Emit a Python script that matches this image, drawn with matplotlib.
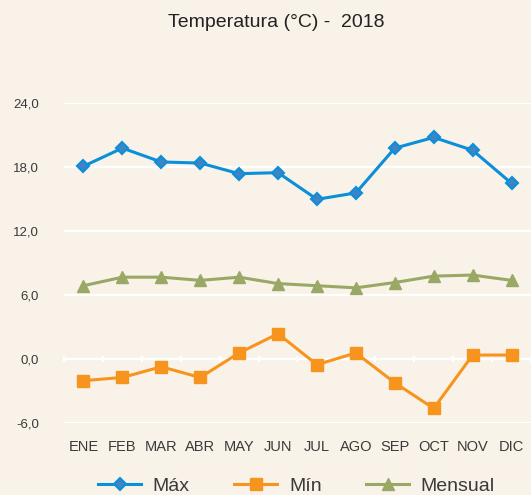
import matplotlib
matplotlib.use("Agg")
import matplotlib.pyplot as plt

# Monthly temperatures 2018
months = ["ENE", "FEB", "MAR", "ABR", "MAY", "JUN", "JUL", "AGO", "SEP", "OCT", "NOV", "DIC"]
t_max = [18.1, 19.8, 18.5, 18.4, 17.4, 17.5, 15.0, 15.6, 19.8, 20.8, 19.6, 16.5]
t_min = [-2.0, -1.7, -0.7, -1.7, 0.6, 2.4, -0.5, 0.6, -2.2, -4.6, 0.4, 0.4]
t_mean = [6.9, 7.7, 7.7, 7.4, 7.7, 7.1, 6.9, 6.7, 7.2, 7.8, 7.9, 7.4]
y_ticks = [-6, 0, 6, 12, 18, 24]

bg = "#f8f2e9"
text_col = "#3a3a3a"

plt.rcParams['font.family'] = ['Liberation Sans', 'DejaVu Sans']

fig = plt.figure(figsize=(5.31, 4.95), dpi=100, facecolor=bg)
ax = fig.add_axes([0.1205, 0.1448, 0.8795, 0.6465], facecolor=bg)

x = list(range(len(months)))
ax.plot(x, t_max, color="#0b8fd8", lw=2.2, marker="D", ms=6.5,
        mfc="#3f84c6", mec="#0b8fd8", mew=1.5, label="Máx", zorder=3)
ax.plot(x, t_min, color="#f7941d", lw=2.2, marker="s", ms=8,
        mfc="#f7941d", mec="#f7941d", label="Mín", zorder=3)
ax.plot(x, t_mean, color="#9aa866", lw=2.2, marker="^", ms=8,
        mfc="#9aa866", mec="#9aa866", label="Mensual", zorder=3)

ax.set_xlim(-0.5, 11.5)
ax.set_ylim(-6, 24)
ax.set_yticks(y_ticks)
ax.set_yticklabels([f"{v:.1f}".replace(".", ",") for v in y_ticks])
ax.set_xticks(x)
ax.set_xticklabels(months)
ax.tick_params(axis="y", length=0, pad=18, labelsize=9.5, labelcolor=text_col)
ax.tick_params(axis="x", length=0, pad=12, labelsize=10.5, labelcolor=text_col)
ax.grid(axis="y", color="white", lw=1.6, zorder=1)
for s in ax.spines.values():
    s.set_visible(False)

# category boundary ticks on the zero line
sec = ax.secondary_xaxis(0.2)
sec.set_xticks([i - 0.5 for i in range(len(months) + 1)])
sec.set_xticklabels([])
sec.tick_params(axis="x", length=5, width=1.5, color="white", direction="inout")
sec.spines["bottom"].set_color("white")
sec.spines["bottom"].set_linewidth(1.6)

fig.text(0.52, 0.955, "Temperatura (°C) -  2018", ha="center", va="center",
         fontsize=14, color="#222222")

ax.legend(loc="center", bbox_to_anchor=(0.498, -0.195), ncol=3, frameon=False,
          fontsize=14, handlelength=2.2, columnspacing=2.3, handletextpad=0.6,
          labelcolor=text_col)

fig.savefig("out.png", dpi=100, facecolor=bg)
